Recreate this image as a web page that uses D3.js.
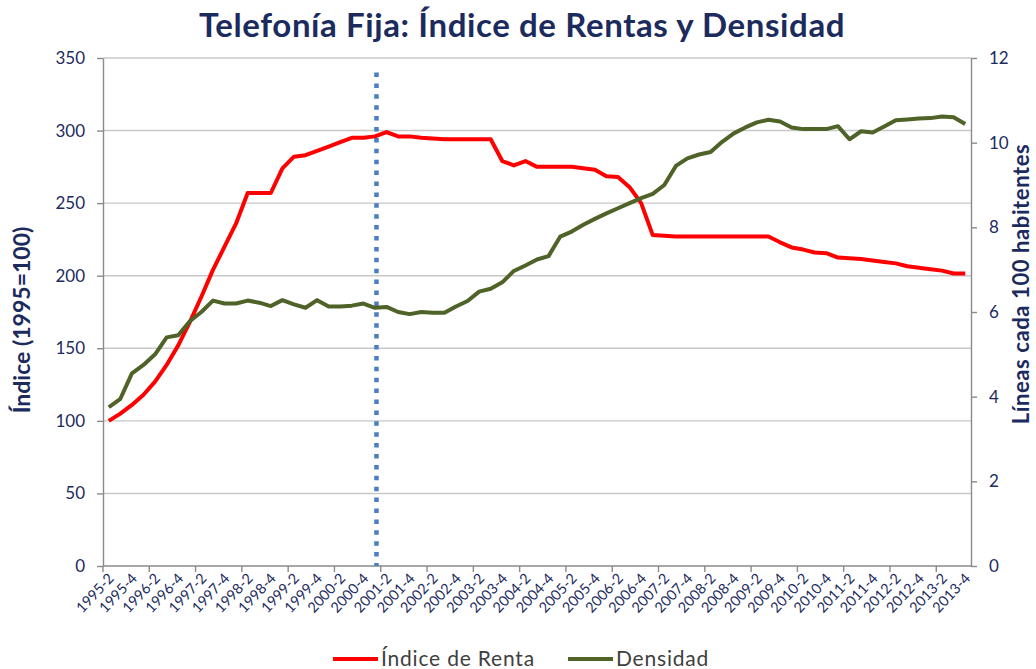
<!DOCTYPE html>
<html><head><meta charset="utf-8">
<script src="https://cdn.jsdelivr.net/npm/d3@7"></script>
<style>
body{margin:0;background:#fff;}
svg{display:block;font-family:Lato,"Open Sans",sans-serif;}
</style>
</head><body>
<svg id="c" width="1036" height="669"></svg>
<script>
const categories = [
 "1995-2","1995-3","1995-4",
 "1996-1","1996-2","1996-3","1996-4",
 "1997-1","1997-2","1997-3","1997-4",
 "1998-1","1998-2","1998-3","1998-4",
 "1999-1","1999-2","1999-3","1999-4",
 "2000-1","2000-2","2000-3","2000-4",
 "2001-1","2001-2","2001-3","2001-4",
 "2002-1","2002-2","2002-3","2002-4",
 "2003-1","2003-2","2003-3","2003-4",
 "2004-1","2004-2","2004-3","2004-4",
 "2005-1","2005-2","2005-3","2005-4",
 "2006-1","2006-2","2006-3","2006-4",
 "2007-1","2007-2","2007-3","2007-4",
 "2008-1","2008-2","2008-3","2008-4",
 "2009-1","2009-2","2009-3","2009-4",
 "2010-1","2010-2","2010-3","2010-4",
 "2011-1","2011-2","2011-3","2011-4",
 "2012-1","2012-2","2012-3","2012-4",
 "2013-1","2013-2","2013-3","2013-4"
];
const indiceRenta = [
 100,105,111,118,127,138.5,152,168,185.5,204,220,236,
 257,257,257,274,282,283,286,289,292,295,295,296,
 299,296,296,295,294.5,294,294,294,294,294,279,276,
 279,275,275,275,275,274,273,268.5,268,261,250,228,
 227.5,227,227,227,227,227,227,227,227,227,223,219.5,
 218,216,215.5,212.5,212,211.5,210.5,209.5,208.5,206.5,205.5,204.5,
 203.5,201.5,201.5
];
const densidad = [
 3.75,3.95,4.55,4.75,5.0,5.4,5.45,5.78,6.0,6.27,6.2,6.2,
 6.27,6.22,6.14,6.28,6.18,6.1,6.28,6.13,6.13,6.15,6.2,6.1,
 6.12,6.0,5.95,6.0,5.98,5.98,6.13,6.26,6.48,6.55,6.7,6.97,
 7.1,7.24,7.32,7.78,7.9,8.06,8.2,8.33,8.45,8.57,8.69,8.79,
 9.0,9.45,9.63,9.72,9.78,10.02,10.22,10.36,10.48,10.54,10.5,10.36,
 10.32,10.32,10.32,10.39,10.08,10.27,10.24,10.38,10.53,10.55,10.57,10.58,
 10.62,10.6,10.44
];
const leftTicks = [0,50,100,150,200,250,300,350];
const rightTicks = [0,2,4,6,8,10,12];
const markerCategory = "2001-1";
const markerTop = 340;
const titleText = "Telefonía Fija: Índice de Rentas y Densidad";
const leftLabel = "Índice (1995=100)";
const rightLabel = "Líneas cada 100 habitentes";
const seriesNames = ["Índice de Renta","Densidad"];

const navy = "#1c2b5e";
const FONT = "Lato,'Open Sans',sans-serif";
const svg = d3.select("#c");
const L = 103, R = 971, T = 58, B = 566;

const x = d3.scaleBand().domain(categories).range([L, R]).padding(0);
const cx = c => x(c) + x.bandwidth()/2;
const yL = d3.scaleLinear().domain([0,350]).range([B,T]);
const yR = d3.scaleLinear().domain([0,12]).range([B,T]);

// title
svg.append("text").attr("x", 522).attr("y", 37).attr("text-anchor","middle")
  .attr("font-size", 33).attr("font-weight","bold").attr("letter-spacing",0.6)
  .attr("fill", navy).text(titleText);

// gridlines
svg.append("g").selectAll("line").data(leftTicks.filter(d=>d>0)).join("line")
  .attr("x1", L).attr("x2", R).attr("y1", d=>yL(d)).attr("y2", d=>yL(d))
  .attr("stroke","#c8c8c8").attr("stroke-width",1.4);

// left axis
const gL = svg.append("g").attr("transform",`translate(${L},0)`)
  .call(d3.axisLeft(yL).tickValues(leftTicks).tickSize(6).tickSizeOuter(0).tickPadding(12));
gL.select(".domain").attr("stroke","#8a8a8a").attr("stroke-width",1.4);
gL.selectAll(".tick line").attr("stroke","#8a8a8a").attr("stroke-width",1.4);
gL.selectAll(".tick text").attr("font-size",17).attr("fill",navy).attr("font-family",FONT);

// right axis
const gR = svg.append("g").attr("transform",`translate(${R},0)`)
  .call(d3.axisRight(yR).tickValues(rightTicks).tickSize(6).tickSizeOuter(0).tickPadding(12));
gR.select(".domain").attr("stroke","#8a8a8a").attr("stroke-width",1.4);
gR.selectAll(".tick line").attr("stroke","#8a8a8a").attr("stroke-width",1.4);
gR.selectAll(".tick text").attr("font-size",17).attr("fill",navy).attr("font-family",FONT);

// bottom axis line + ticks every 4 categories at boundaries
svg.append("line").attr("x1",L).attr("x2",R).attr("y1",B).attr("y2",B)
  .attr("stroke","#8a8a8a").attr("stroke-width",1.4);
svg.append("g").selectAll("line").data(categories.filter((c,i)=>i%4===0)).join("line")
  .attr("x1", d=>x(d)).attr("x2", d=>x(d)).attr("y1",B).attr("y2",B+6)
  .attr("stroke","#8a8a8a").attr("stroke-width",1.4);

// bottom labels every 2 categories
const gB = svg.append("g").attr("transform",`translate(0,${B})`)
  .call(d3.axisBottom(x).tickValues(categories.filter((c,i)=>i%2===0)).tickSize(0).tickPadding(0));
gB.select(".domain").remove();
gB.selectAll(".tick text")
  .attr("font-size",14.5).attr("fill",navy).attr("font-family",FONT)
  .attr("text-anchor","end").attr("dy",null).attr("y",0)
  .attr("transform","translate(6,13) rotate(-47)");

// axis titles
svg.append("text").attr("transform","translate(30,320) rotate(-90)").attr("text-anchor","middle")
  .attr("font-size",23).attr("font-weight","bold").attr("fill",navy).text(leftLabel);
svg.append("text").attr("transform","translate(1029,284) rotate(-90)").attr("text-anchor","middle")
  .attr("font-size",22).attr("font-weight","bold").attr("letter-spacing",0.6).attr("fill",navy).text(rightLabel);

// marker dotted line
svg.append("line").attr("x1",cx(markerCategory)+1.5).attr("x2",cx(markerCategory)+1.5)
  .attr("y1",yL(markerTop)).attr("y2",B)
  .attr("stroke","#4a7ebf").attr("stroke-width",4.5).attr("stroke-dasharray","4.5 6.4");

// series
const lineL = d3.line().x((d,i)=>cx(categories[i])).y(d=>yL(d));
const lineR = d3.line().x((d,i)=>cx(categories[i])).y(d=>yR(d));
svg.append("path").datum(indiceRenta).attr("d",lineL).attr("fill","none")
  .attr("stroke","#ff0000").attr("stroke-width",4).attr("stroke-linejoin","round");
svg.append("path").datum(densidad).attr("d",lineR).attr("fill","none")
  .attr("stroke","#4f6228").attr("stroke-width",4).attr("stroke-linejoin","round");

// legend
const legend = [
  {name: seriesNames[0], color:"#ff0000", x:333},
  {name: seriesNames[1], color:"#4f6228", x:568}
];
const lg = svg.append("g");
legend.forEach(l=>{
  lg.append("line").attr("x1",l.x).attr("x2",l.x+45).attr("y1",659).attr("y2",659)
    .attr("stroke",l.color).attr("stroke-width",4);
  lg.append("text").attr("x",l.x+48).attr("y",666).attr("font-size",21).attr("letter-spacing",0.8)
    .attr("fill","#404040").text(l.name);
});
</script>
</body></html>
